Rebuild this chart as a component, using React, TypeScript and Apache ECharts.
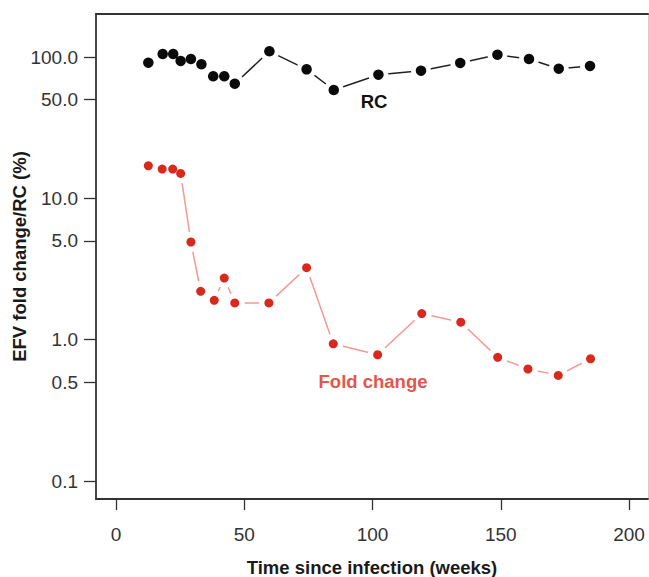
import React, { useEffect, useRef } from "react";
import * as echarts from "echarts";

const weeksRC = [12.6, 18.2, 22.3, 25.2, 29.2, 33.3, 37.9, 42.2, 46.3, 59.8, 74.3, 84.9, 102.3, 118.9, 134.2, 148.7, 161.0, 172.6, 184.8];
const valuesRC = [91.1, 105, 105, 93.7, 96.8, 88.8, 73.0, 73.0, 64.7, 109.7, 81.8, 58.4, 74.9, 80.0, 90.7, 103.8, 96.8, 82.6, 86.4];

const weeksFC = [12.6, 18.0, 22.1, 25.2, 29.2, 33.0, 38.3, 42.2, 46.3, 59.6, 74.3, 84.7, 102.0, 119.2, 134.4, 148.8, 160.6, 172.4, 185.0];
const valuesFC = [17.0, 16.1, 16.1, 15.0, 4.91, 2.2, 1.9, 2.73, 1.82, 1.82, 3.23, 0.935, 0.782, 1.53, 1.33, 0.75, 0.62, 0.559, 0.733];

const xTicks = [0, 50, 100, 150, 200];
const yTicks = [0.1, 0.5, 1, 5, 10, 50, 100];

const FONT = "'Liberation Sans', Arial, Helvetica, sans-serif";

function toPairs(xs: number[], ys: number[]) {
  return xs.map((x, i) => [x, Math.log10(ys[i])]);
}

export default function App() {
  const ref = useRef<HTMLDivElement>(null);
  useEffect(() => {
    if (!ref.current) return;
    const chart = echarts.init(ref.current, undefined, { renderer: "svg" });
    const rc = toPairs(weeksRC, valuesRC);
    const fc = toPairs(weeksFC, valuesFC);
    const yMin = Math.log10(0.0746);
    const yMax = Math.log10(201.5);
    chart.setOption({
      animation: false,
      backgroundColor: "#ffffff",
      grid: { left: 96, right: 1, top: 14, bottom: 78, containLabel: false, outerBoundsMode: "none" },
      xAxis: [
        {
          type: "value",
          min: -7.8,
          max: 207.4,
          position: "bottom",
          name: "Time since infection (weeks)",
          nameLocation: "middle",
          nameGap: 59,
          nameTextStyle: { fontFamily: FONT, fontSize: 18.5, fontWeight: "bold", color: "#1a1a1a" },
          axisLine: { show: true, onZero: false, lineStyle: { color: "#333", width: 1.8 } },
          axisTick: { show: true, inside: false, length: 11, customValues: xTicks, lineStyle: { color: "#333", width: 1.3 } },
          axisLabel: { customValues: xTicks, margin: 26, fontFamily: FONT, fontSize: 19, color: "#333" },
          splitLine: { show: false },
        },
        {
          type: "value",
          min: -7.8,
          max: 207.4,
          position: "top",
          axisLine: { show: true, onZero: false, lineStyle: { color: "#333", width: 2 } },
          axisTick: { show: false },
          axisLabel: { show: false },
          splitLine: { show: false },
        },
      ],
      yAxis: [
        {
          type: "value",
          min: yMin,
          max: yMax,
          position: "left",
          name: "EFV fold change/RC (%)",
          nameLocation: "middle",
          nameGap: 67,
          nameMoveOverlap: false,
          nameRotate: 90,
          nameTextStyle: { fontFamily: FONT, fontSize: 18.5, fontWeight: "bold", color: "#1a1a1a" },
          axisLine: { show: true, onZero: false, lineStyle: { color: "#333", width: 1.8 } },
          axisTick: { show: true, inside: false, length: 12, customValues: yTicks.map((v) => Math.log10(v)), lineStyle: { color: "#333", width: 1.3 } },
          axisLabel: {
            customValues: yTicks.map((v) => Math.log10(v)),
            margin: 18,
            fontFamily: FONT,
            fontSize: 19,
            color: "#333",
            formatter: (v: number) => Math.pow(10, v).toFixed(1),
          },
          splitLine: { show: false },
        },
        {
          type: "value",
          min: yMin,
          max: yMax,
          position: "right",
          axisLine: { show: true, onZero: false, lineStyle: { color: "#cfcfcf", width: 1 } },
          axisTick: { show: false },
          axisLabel: { show: false },
          splitLine: { show: false },
        },
      ],
      series: [
        {
          type: "line",
          data: rc,
          symbol: "circle",
          symbolSize: 20,
          itemStyle: { color: "#ffffff", opacity: 1 },
          lineStyle: { color: "#222", width: 1.5 },
          z: 1,
          silent: true,
        },
        {
          type: "line",
          data: fc,
          symbol: "circle",
          symbolSize: 20,
          itemStyle: { color: "#ffffff", opacity: 1 },
          lineStyle: { color: "#f29a90", width: 1.5 },
          z: 1,
          silent: true,
        },
        {
          type: "scatter",
          data: rc,
          symbol: "circle",
          symbolSize: 10.5,
          itemStyle: { color: "#0a0a0a", opacity: 1 },
          z: 3,
        },
        {
          type: "scatter",
          data: fc,
          symbol: "circle",
          symbolSize: 9,
          itemStyle: { color: "#d8291c", opacity: 1 },
          z: 3,
        },
      ],
      graphic: [
        {
          type: "text",
          x: 374,
          y: 101,
          style: { text: "RC", fontFamily: FONT, fontSize: 18.5, fontWeight: "bold", fill: "#111", align: "center", verticalAlign: "middle" },
        },
        {
          type: "text",
          x: 373,
          y: 381,
          style: { text: "Fold change", fontFamily: FONT, fontSize: 18.5, fontWeight: "bold", fill: "#e2574a", align: "center", verticalAlign: "middle" },
        },
      ],
    });
    return () => chart.dispose();
  }, []);
  return <div ref={ref} style={{ position: "absolute", left: 0, top: 0, width: 649, height: 577 }} />;
}
